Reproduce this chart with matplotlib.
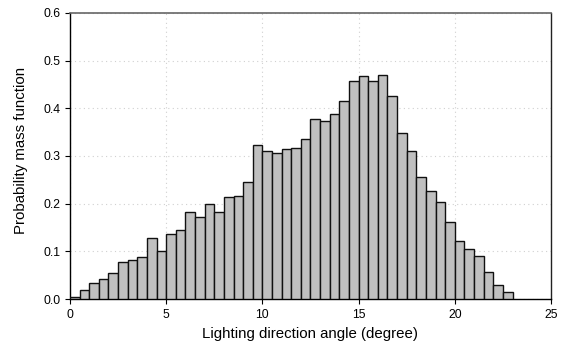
import matplotlib
matplotlib.use("Agg")
import matplotlib.pyplot as plt
import numpy as np

plt.rcParams['font.family'] = ['Liberation Sans', 'DejaVu Sans']

bin_left = np.arange(0, 23, 0.5)
pmf = [0.004, 0.019, 0.034, 0.042, 0.055, 0.078, 0.082, 0.088, 0.128, 0.101,
       0.137, 0.145, 0.182, 0.171, 0.199, 0.183, 0.215, 0.217, 0.246, 0.324,
       0.310, 0.307, 0.315, 0.317, 0.336, 0.377, 0.374, 0.388, 0.415, 0.458,
       0.468, 0.457, 0.470, 0.426, 0.348, 0.310, 0.255, 0.226, 0.203, 0.161,
       0.122, 0.105, 0.090, 0.057, 0.030, 0.015]
xticks = [0, 5, 10, 15, 20, 25]
yticks = [0.0, 0.1, 0.2, 0.3, 0.4, 0.5, 0.6]

fig = plt.figure(figsize=(5.63, 3.5), dpi=100)
ax = fig.add_axes([0.1243, 0.1457, 0.8544, 0.8172])
ax.bar(bin_left, pmf, width=0.5, align='edge', color='#c0c0c0',
       edgecolor='#111111', linewidth=1.0, zorder=3)
ax.set_xlim(0, 25)
ax.set_ylim(0, 0.6)
ax.set_xticks(xticks)
ax.set_yticks(yticks)
ax.set_yticklabels([f"{v:.1f}" for v in yticks])
ax.grid(True, color='#d0d0d0', linestyle=(0, (1, 3)), linewidth=0.8, zorder=0)
ax.tick_params(axis='both', labelsize=8.8, length=3.5, width=0.8, direction='out')
ax.tick_params(axis='x', pad=4)
ax.tick_params(axis='y', pad=3)
for s in ['left', 'bottom']:
    ax.spines[s].set_color('black')
    ax.spines[s].set_linewidth(1.0)
ax.spines['top'].set_color('#666666')
ax.spines['top'].set_linewidth(1.2)
ax.spines['right'].set_color('#222222')
ax.spines['right'].set_linewidth(1.0)
ax.set_xlabel('Lighting direction angle (degree)', fontsize=10.8, labelpad=4)
ax.set_ylabel('Probability mass function', fontsize=10.8)
ax.yaxis.set_label_coords(-0.088, 0.52)
fig.savefig('out.png', dpi=100)
